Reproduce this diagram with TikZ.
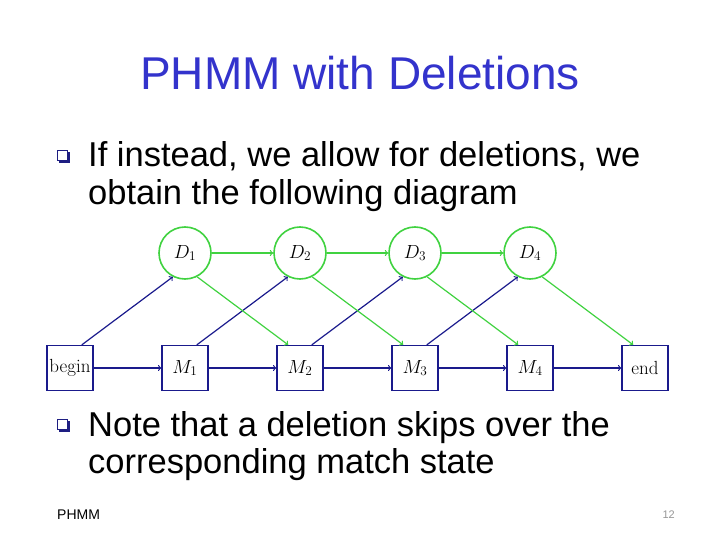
\RequirePackage{fix-cm}
\documentclass[tikz,border=0pt]{standalone}
\usepackage{fontspec}
\usepackage{xcolor}
\usepackage{tikz}
\newfontfamily\slidefont{Liberation Sans}
\definecolor{titleblue}{RGB}{51, 51, 204}
\definecolor{hmmnavy}{RGB}{26, 26, 140}
\definecolor{hmmgreen}{RGB}{64, 210, 64}
\definecolor{bulletnavy}{RGB}{30, 30, 130}
\definecolor{pagegray}{RGB}{150, 150, 150}

\tikzset{
  matchbox/.style={draw=hmmnavy, line width=1.3pt, minimum width=46pt, minimum height=45pt, inner sep=1pt, font=\fontsize{19}{21}\selectfont},
  delcirc/.style={draw=hmmgreen, circle, line width=1.6pt, minimum size=52pt, inner sep=1pt, font=\fontsize{19}{21}\selectfont},
  navyarrow/.style={->, hmmnavy, line width=1.2pt},
  greenarrow/.style={->, hmmgreen, line width=1.2pt},
  slidetext/.style={anchor=base west, inner sep=0pt, font=\slidefont\fontsize{34.5}{38}\selectfont}
}

\begin{document}
\begin{tikzpicture}[x=1pt, y=-1pt]
        \useasboundingbox (0,0) rectangle (720,540);
        % title
        \node[text=titleblue, font=\slidefont\fontsize{46}{50}\selectfont, anchor=base, inner sep=0pt] (title) at (360,90) {PHMM with Deletions};
        % first bullet
        \fill[bulletnavy] (59,152) rectangle (70,163);
        \filldraw[fill=white, draw=bulletnavy, line width=0.6pt] (57,150) rectangle (67,160);
        \node[slidetext] (line1) at (88,167) {If instead, we allow for deletions, we};
        \node[slidetext] (line2) at (88,205) {obtain the following diagram};
        % delete states
        \node[delcirc] (D1) at (185,253) {$D_1$};
        \node[delcirc] (D2) at (300,253) {$D_2$};
        \node[delcirc] (D3) at (415,253) {$D_3$};
        \node[delcirc] (D4) at (530,253) {$D_4$};
        % match states
        \node[matchbox] (mbegin) at (70,368) {begin};
        \node[matchbox] (M1) at (185,368) {$M_1$};
        \node[matchbox] (M2) at (300,368) {$M_2$};
        \node[matchbox] (M3) at (415,368) {$M_3$};
        \node[matchbox] (M4) at (530,368) {$M_4$};
        \node[matchbox] (mend) at (645,368) {end};
        % match to match
        \draw[navyarrow] (mbegin) -- (M1);
        \draw[navyarrow] (M1) -- (M2);
        \draw[navyarrow] (M2) -- (M3);
        \draw[navyarrow] (M3) -- (M4);
        \draw[navyarrow] (M4) -- (mend);
        % match to delete
        \draw[navyarrow] (mbegin.63) -- (D1.243);
        \draw[navyarrow] (M1.63) -- (D2.243);
        \draw[navyarrow] (M2.63) -- (D3.243);
        \draw[navyarrow] (M3.63) -- (D4.243);
        % delete to delete
        \draw[greenarrow] (D1) -- (D2);
        \draw[greenarrow] (D2) -- (D3);
        \draw[greenarrow] (D3) -- (D4);
        % delete to match
        \draw[greenarrow] (D1.297) -- (M2.117);
        \draw[greenarrow] (D2.297) -- (M3.117);
        \draw[greenarrow] (D3.297) -- (M4.117);
        \draw[greenarrow] (D4.297) -- (mend.117);
        % second bullet
        \fill[bulletnavy] (59,421) rectangle (70,432);
        \filldraw[fill=white, draw=bulletnavy, line width=0.6pt] (57,419) rectangle (67,429);
        \node[slidetext] (line3) at (88,436) {Note that a deletion skips over the};
        \node[slidetext] (line4) at (88,473) {corresponding match state};
        % footer
        \node[font=\slidefont\fontsize{14}{16}\selectfont, anchor=base west, inner sep=0pt] (footer) at (57,519) {PHMM};
        \node[text=pagegray, font=\slidefont\fontsize{11}{13}\selectfont, anchor=base east, inner sep=0pt] (pagenum) at (675,518) {12};
      \end{tikzpicture}
\end{document}
